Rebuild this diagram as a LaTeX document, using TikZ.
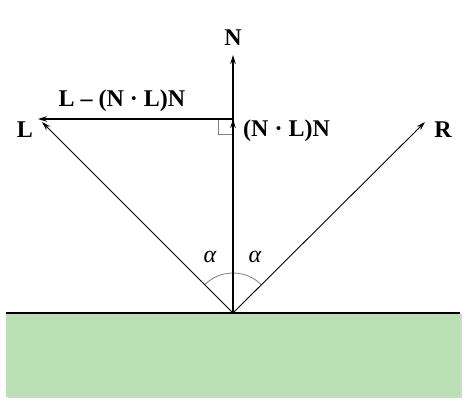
\documentclass[tikz,border=0pt]{standalone}
\usepackage{fontspec}
\setmainfont{Liberation Serif}
\usetikzlibrary{arrows.meta,shadows,calc}

\definecolor{groundgreen}{RGB}{186,223,180}
\newcommand{\gap}{\hspace{0.25em}}

\tikzset{
  vec/.style={line width=1.6pt, -{Stealth[length=9pt,width=5.5pt]}},
  ray/.style={line width=0.9pt, -{Stealth[length=9pt,width=5.5pt]}},
  lbl/.style={font=\fontsize{24}{28}\selectfont\bfseries, inner sep=0pt},
  ang/.style={font=\fontsize{24}{28}\selectfont\itshape, inner sep=0pt},
}

\begin{document}
\begin{tikzpicture}[x=1pt,y=1pt]
  \useasboundingbox (0,0) rectangle (472,402);
  % ground
  \fill[groundgreen, drop shadow={shadow xshift=1.5pt, shadow yshift=-1.5pt, opacity=0.35}] (6,5) rectangle (460,89);
  \coordinate (gl) at (6,89);
  \coordinate (gr) at (460,89);
  \draw[line width=1.6pt] (gl) -- (gr);
  % points
  \coordinate (O) at (233,89);
  \coordinate (N) at (233,347);
  \coordinate (C) at (233,283);
  \coordinate (H) at (38,283);
  \coordinate (L) at (42,280);
  \coordinate (R) at (425,280);
  % labels
  \node[lbl] (Nlab) at (233,364) {N};
  \node[lbl] (Llab) at (25,272) {L};
  \node[lbl] (Rlab) at (443,272) {R};
  \node[lbl] (diff) at (122,301) {L\gap–\gap(N\gap·\gap L)N};
  \node[lbl, anchor=west] (proj) at (243,271) {(N\gap·\gap L)N};
  \node[ang] (a1) at (210,145) {α};
  \node[ang] (a2) at (255,145) {α};
  % angle and right angle marks
  \draw[gray, line width=0.8pt] ($(O)+(45:40)$) arc (45:135:40);
  \draw[gray, line width=0.8pt] (218,283) -- (218,268) -- (233,268);
  % vectors
  \draw[vec] (O) -- (N);
  \draw[vec] (O) -- (C);
  \draw[vec] (C) -- (H);
  \draw[ray] (O) -- (L);
  \draw[ray] (O) -- (R);
\end{tikzpicture}
\end{document}
